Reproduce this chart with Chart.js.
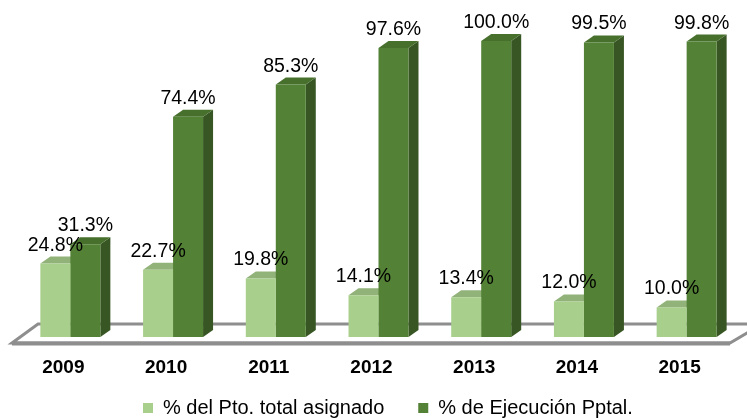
<!DOCTYPE html>
<html><head><meta charset="utf-8">
<script src="https://cdn.jsdelivr.net/npm/chart.js@4.4.1/dist/chart.umd.min.js"></script>
<style>html,body{margin:0;padding:0;background:#fff;overflow:hidden}</style>
</head><body>
<canvas id="c" width="747" height="418"></canvas>
<script>
const years = ['2009','2010','2011','2012','2013','2014','2015'];
const pctAsignado = [24.8, 22.7, 19.8, 14.1, 13.4, 12.0, 10.0];
const pctEjecucion = [31.3, 74.4, 85.3, 97.6, 100.0, 99.5, 99.8];
const seriesNames = ['% del Pto. total asignado', '% de Ejecución Pptal.'];

const FONT = '"Liberation Sans", Arial, Helvetica, sans-serif';
const DEPTH_X = 10, DEPTH_Y = -7;
const frontColors = ['#a8cf8c', '#538135'];
const faceColors = [
  {top: '#91b279', side: '#7fa366'},
  {top: '#47702d', side: '#375623'}
];
const LEGEND_CENTER_Y = 408, LEGEND_START_X = 143;

const floorPlugin = {
  id: 'floor3d',
  beforeDatasetsDraw(chart) {
    const ctx = chart.ctx, a = chart.chartArea, b = a.bottom;
    ctx.save();
    ctx.beginPath();
    ctx.moveTo(a.left - 7, b + 6);
    ctx.lineTo(a.left + 19, b - 13);
    ctx.lineTo(a.right + 24, b - 13);
    ctx.lineTo(a.right - 8, b + 6);
    ctx.closePath();
    ctx.fillStyle = '#fff'; ctx.fill();
    ctx.strokeStyle = '#8e8e8e'; ctx.lineWidth = 3; ctx.stroke();
    ctx.beginPath();
    ctx.moveTo(a.left - 7, b + 6.5); ctx.lineTo(a.right - 8, b + 6.5);
    ctx.lineWidth = 4; ctx.stroke();
    chart.data.datasets.forEach((ds, i) => {
      const meta = chart.getDatasetMeta(i);
      meta.data.forEach(el => {
        const {x, y, base, width} = el.getProps(['x', 'y', 'base', 'width'], true);
        const l = x - width / 2, r = x + width / 2;
        ctx.fillStyle = faceColors[i].side;
        ctx.beginPath(); ctx.moveTo(r, y); ctx.lineTo(r + DEPTH_X, y + DEPTH_Y);
        ctx.lineTo(r + DEPTH_X, base + DEPTH_Y); ctx.lineTo(r, base); ctx.closePath(); ctx.fill();
        ctx.fillStyle = faceColors[i].top;
        ctx.beginPath(); ctx.moveTo(l, y); ctx.lineTo(l + DEPTH_X, y + DEPTH_Y);
        ctx.lineTo(r + DEPTH_X, y + DEPTH_Y); ctx.lineTo(r, y); ctx.closePath(); ctx.fill();
      });
    });
    ctx.restore();
  }
};

const labelPlugin = {
  id: 'valueLabels',
  afterDatasetsDraw(chart) {
    const ctx = chart.ctx;
    ctx.save();
    ctx.font = '19.5px ' + FONT;
    ctx.fillStyle = '#000';
    ctx.textAlign = 'center';
    ctx.textBaseline = 'alphabetic';
    chart.data.datasets.forEach((ds, i) => {
      chart.getDatasetMeta(i).data.forEach((el, j) => {
        ctx.fillText(ds.data[j].toFixed(1) + '%', el.x, el.y - 13);
      });
    });
    ctx.restore();
  }
};

const legendPlace = {
  id: 'legendPlace',
  afterLayout(chart) {
    const lg = chart.legend;
    if (!lg || !lg.lineWidths) return;
    const p = lg.options.labels.padding;
    const itemH = lg.options.labels.font.size;
    const dy = (LEGEND_CENTER_Y - p - itemH / 2) - lg.top;
    lg.top += dy; lg.bottom += dy;
    const curX = (lg.left + p + lg.right - lg.lineWidths[0]) / 2;
    const dx = LEGEND_START_X - curX;
    lg.left += dx; lg.right += dx;
  }
};

new Chart(document.getElementById('c'), {
  type: 'bar',
  data: {
    labels: years,
    datasets: [
      {label: seriesNames[0], data: pctAsignado, backgroundColor: frontColors[0], borderColor: frontColors[0], borderWidth: 0},
      {label: seriesNames[1], data: pctEjecucion, backgroundColor: frontColors[1], borderColor: frontColors[1], borderWidth: 0}
    ]
  },
  options: {
    responsive: false,
    animation: false,
    devicePixelRatio: 1,
    datasets: {bar: {categoryPercentage: 0.584, barPercentage: 1}},
    layout: {padding: {top: 41, left: 19, right: 9, bottom: -25}},
    scales: {
      x: {
        offset: true,
        grid: {display: false, drawTicks: false},
        border: {display: false},
        ticks: {color: '#000', font: {family: FONT, size: 19, weight: 'bold'}, padding: 19, labelOffset: -7, maxRotation: 0, autoSkip: false},
        afterFit(scale) { scale.height = 42; }
      },
      y: {display: false, min: 0, max: 100}
    },
    plugins: {
      legend: {
        position: 'bottom',
        labels: {color: '#000', font: {family: FONT, size: 20}, boxWidth: 10, boxHeight: 10, padding: 34}
      },
      title: {display: false},
      tooltip: {enabled: false}
    }
  },
  plugins: [floorPlugin, labelPlugin, legendPlace]
});
</script>
</body></html>
